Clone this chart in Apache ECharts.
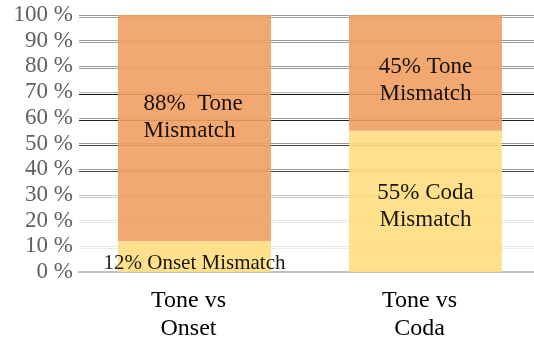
<!DOCTYPE html>
<html><head><meta charset="utf-8">
<script src="https://cdn.jsdelivr.net/npm/echarts@6/dist/echarts.min.js"></script>
<style>html,body{margin:0;padding:0;background:#fff}#c{width:534px;height:341px}</style>
</head><body><div id="c"></div>
<script>
const categories = ['Tone vs\nOnset', 'Tone vs\nCoda'];
const otherMismatch = [12, 55];
const toneMismatch = [88, 45];
const otherLabels = ['12% Onset Mismatch', '55% Coda\nMismatch'];
const toneLabels = ['88%  Tone\nMismatch', '45% Tone\nMismatch'];
const gridValues = [10, 20, 30, 40, 50, 60, 70, 80, 90, 100];

const F = 'Times New Roman';
const gridStyles = {
  10: ['#e6e6e6', '#ececec'], 20: ['#e6e6e6', '#ececec'], 30: ['#c8c8c8', '#d0d0d0'],
  40: ['#9a9a9a', '#404040'], 50: ['#9a9a9a', '#404040'], 60: ['#9a9a9a', '#202020'],
  70: ['#b0b0b0', '#111111'], 80: ['#999999', '#a0a0a0'], 90: ['#999999', '#a0a0a0'], 100: ['#999999', '#a0a0a0']
};
const chart = echarts.init(document.getElementById('c'));
chart.setOption({
  animation: false,
  textStyle: { fontFamily: F },
  grid: { left: 79, right: -7, top: 15, bottom: 69, containLabel: false, outerBoundsMode: 'none' },
  xAxis: {
    type: 'category', data: categories,
    axisLine: { lineStyle: { color: '#bfbfbf', width: 2 } },
    axisTick: { show: false },
    axisLabel: { fontFamily: F, fontSize: 24, color: '#000', margin: 15, lineHeight: 28, padding: [0, 12, 0, 0] }
  },
  yAxis: {
    type: 'value', min: 0, max: 100, interval: 10,
    splitLine: { show: false },
    axisLabel: { fontFamily: F, fontSize: 23, color: '#606060', margin: 6, formatter: v => v + ' %' }
  },
  series: [
    {
      type: 'line', data: [], z: 1,
      markLine: {
        z: 1, silent: true, symbol: 'none', label: { show: false }, animation: false,
        data: gridValues.map(v => ({
          yAxis: v,
          lineStyle: { type: 'solid', width: 1, color: gridStyles[v][0], shadowColor: gridStyles[v][1], shadowOffsetY: 2, shadowBlur: 0 }
        }))
      }
    },
    {
      type: 'bar', stack: 's', barWidth: 153, z: 3,
      data: otherMismatch.map((v, i) => ({ value: v, label: { fontSize: i === 0 ? 21 : 23 } })),
      itemStyle: { color: 'rgb(255,221,128)', opacity: 0.9 },
      label: {
        show: true, position: 'inside', fontFamily: F, color: '#000', lineHeight: 27,
        formatter: p => otherLabels[p.dataIndex]
      },
      labelLayout: p => p.dataIndex === 0 ? { dy: 7 } : { dy: 5 }
    },
    {
      type: 'bar', stack: 's', barWidth: 153, z: 3,
      data: toneMismatch.map((v, i) => ({ value: v, label: i === 0 ? { align: 'left' } : {} })),
      itemStyle: { color: 'rgb(241,158,98)', opacity: 0.9 },
      label: {
        show: true, position: 'inside', fontFamily: F, fontSize: 23, color: '#000', lineHeight: 27,
        formatter: p => toneLabels[p.dataIndex]
      },
      labelLayout: p => p.dataIndex === 0 ? { dy: -11, dx: -51 } : { dy: 8 }
    }
  ]
});
</script></body></html>
